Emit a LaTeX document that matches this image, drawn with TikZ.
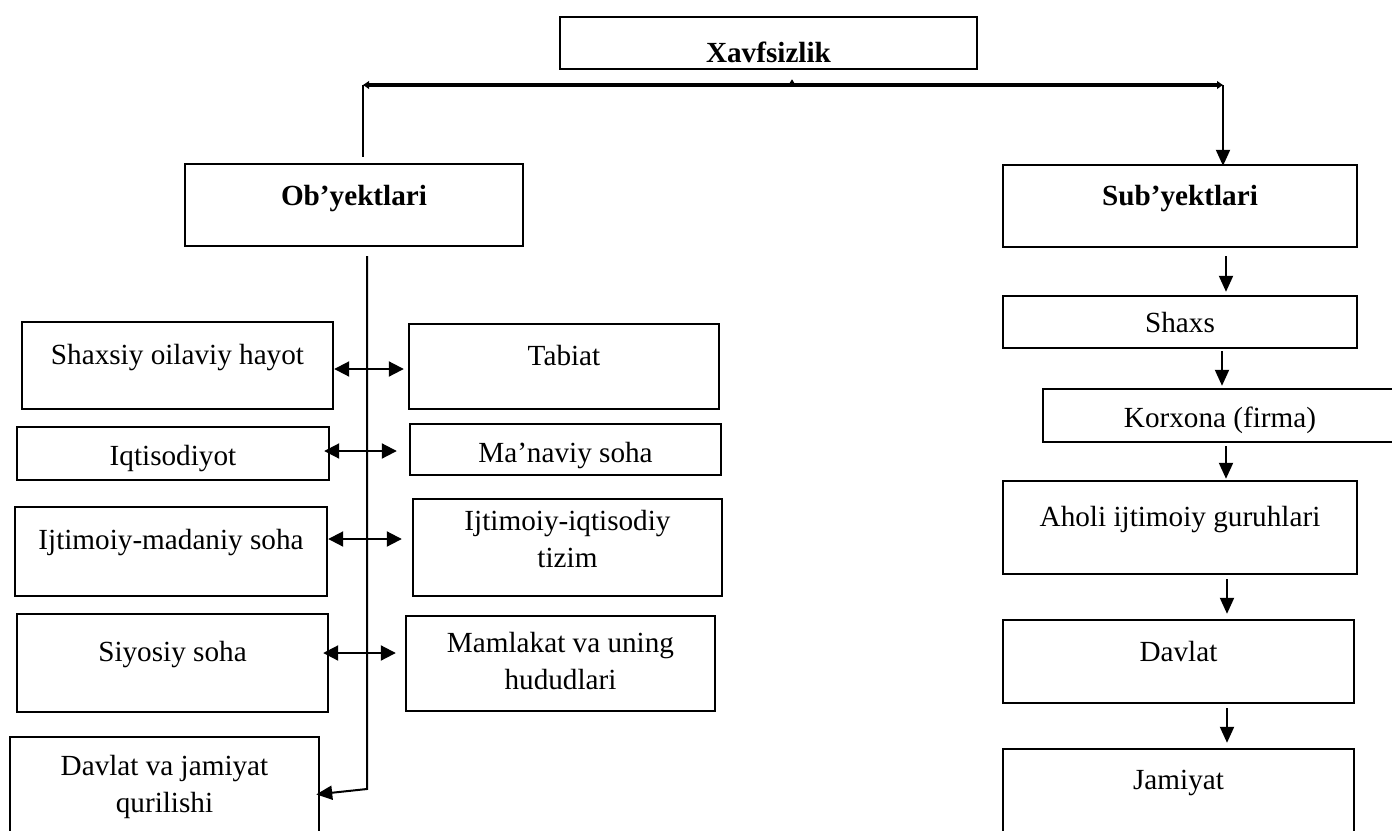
\documentclass[tikz,border=0pt]{standalone}
\usepackage{fontspec}
\setmainfont{Liberation Serif}
\usetikzlibrary{arrows.meta,positioning,calc}

\tikzset{
	box/.style={draw, rectangle, line width=1.2pt, inner sep=0pt},
	txt/.style={inner sep=0pt, align=center, font=\fontsize{14.6pt}{18.5pt}\selectfont},
	btxt/.style={inner sep=0pt, align=center, font=\fontsize{14.6pt}{18.5pt}\selectfont\bfseries},
	arr/.style={line width=1pt, -{Triangle[length=8pt,width=7pt]}},
	dbl/.style={line width=1pt, {Triangle[length=7.5pt,width=7.5pt]}-{Triangle[length=7.5pt,width=7.5pt]}},
	bus/.style={line width=2.4pt, {Triangle[length=3pt,width=3.8pt]}-{Triangle[length=3pt,width=3.8pt]}}
}

\begin{document}
\begin{tikzpicture}[x=0.5pt,y=-0.5pt]
	\path[use as bounding box, clip] (0,0) rectangle (1392,830);

	% top
	\node[box, minimum width=208.5pt, minimum height=26pt] (xavf) at (768.5,43) {};
	\node[btxt] (xavf-t) at (768.5,52) {Xavfsizlik};
	\node[box, minimum width=169pt, minimum height=41pt] (obyekt) at (354,205) {};
	\node[btxt] (obyekt-t) at (354,199) {Ob’yektlari};
	\node[box, minimum width=177pt, minimum height=41pt] (subyekt) at (1180,206) {};
	\node[btxt] (subyekt-t) at (1180,199) {Sub’yektlari};

	\coordinate (busL) at (363,85);
	\coordinate (busR) at (1223,85);
	\coordinate (busC) at (792,85);
	\draw[bus] (busL) -- (busR);
	\draw[line width=1pt, shorten >=3pt] (busL) -- (busL |- obyekt.north);
	\draw[arr, shorten >=-1pt] (busR) -- (busR |- subyekt.north);
	\draw[line width=1pt, -{Triangle[length=3.5pt,width=4pt]}, shorten >=4.5pt] (busC) -- (busC |- xavf.south);

	% objects
	\node[box, minimum width=155.5pt, minimum height=43.5pt] (shaxsiy) at (177.5,365.5) {};
	\node[txt] (shaxsiy-t) at (177.5,358) {Shaxsiy oilaviy hayot};
	\node[box, minimum width=155pt, minimum height=42.5pt] (tabiat) at (564,366.5) {};
	\node[txt] (tabiat-t) at (564,356) {Tabiat};
	\node[box, minimum width=156pt, minimum height=26.5pt] (iqtis) at (173,453.5) {};
	\node[txt] (iqtis-t) at (173,459) {Iqtisodiyot};
	\node[box, minimum width=155.5pt, minimum height=25.5pt] (manav) at (565.5,449.5) {};
	\node[txt] (manav-t) at (565.5,456) {Ma’naviy soha};
	\node[box, minimum width=156pt, minimum height=44.5pt] (ijmad) at (171,551.5) {};
	\node[txt] (ijmad-t) at (171,543) {Ijtimoiy-madaniy soha};
	\node[box, minimum width=154.5pt, minimum height=48.5pt] (ijiqt) at (567.5,547.5) {};
	\node[txt] (ijiqt-t) at (567.5,539) {Ijtimoiy-iqtisodiy\\tizim};
	\node[box, minimum width=155.5pt, minimum height=49pt] (siyos) at (172.5,663) {};
	\node[txt] (siyos-t) at (172.5,655) {Siyosiy soha};
	\node[box, minimum width=154.5pt, minimum height=47.5pt] (mamla) at (560.5,663.5) {};
	\node[txt] (mamla-t) at (560.5,661) {Mamlakat va uning\\hududlari};
	\node[box, minimum width=154.5pt, minimum height=50pt] (davjam) at (164.5,787) {};
	\node[txt] (davjam-t) at (164.5,787) {Davlat va jamiyat\\qurilishi};

	\draw[dbl, shorten >=2pt] ([yshift=-1.75pt]shaxsiy.east) -- ([yshift=-1.75pt]shaxsiy.east -| tabiat.west);
	\draw[dbl, shorten <=-3pt, shorten >=6pt] ([yshift=1.25pt]iqtis.east) -- ([yshift=1.25pt]iqtis.east -| manav.west);
	\draw[dbl, shorten >=5pt] ([yshift=6.25pt]ijmad.east) -- ([yshift=6.25pt]ijmad.east -| ijiqt.west);
	\draw[dbl, shorten <=-3pt, shorten >=4.5pt] ([yshift=5pt]siyos.east) -- ([yshift=5pt]siyos.east -| mamla.west);

	\coordinate (trunk) at (367,789);
	\draw[arr, shorten <=4.5pt, shorten >=-2pt] (obyekt.south -| trunk) -- (trunk) -- ([yshift=-3.5pt]davjam.east);

	% subjects
	\node[box, minimum width=177pt, minimum height=26pt] (shaxs) at (1180,322) {};
	\node[txt] (shaxs-t) at (1180,323) {Shaxs};
	\node[box, minimum width=177pt, minimum height=26.5pt] (korx) at (1220,415.5) {};
	\node[txt] (korx-t) at (1220,420) {Korxona (firma)};
	\node[box, minimum width=177pt, minimum height=46.5pt] (aholi) at (1180,527.5) {};
	\node[txt] (aholi-t) at (1180,520) {Aholi ijtimoiy guruhlari};
	\node[box, minimum width=175.5pt, minimum height=41.5pt] (davl) at (1178.5,661.5) {};
	\node[txt] (davl-t) at (1178.5,652) {Davlat};
	\node[box, minimum width=175.5pt, minimum height=50pt] (jamiy) at (1178.5,799) {};
	\node[txt] (jamiy-t) at (1178.5,783) {Jamiyat};

	\draw[arr, shorten <=4pt, shorten >=1.5pt] ([xshift=23pt]subyekt.south) -- ([xshift=23pt]subyekt.south |- shaxs.north);
	\draw[arr, shorten <=1pt, shorten >=1pt] ([xshift=21pt]shaxs.south) -- ([xshift=21pt]shaxs.south |- korx.north);
	\draw[arr, shorten <=1.5pt, shorten >=0.5pt] ([xshift=3pt]korx.south) -- ([xshift=3pt]korx.south |- aholi.north);
	\draw[arr, shorten <=2pt, shorten >=2.5pt] ([xshift=23.5pt]aholi.south) -- ([xshift=23.5pt]aholi.south |- davl.north);
	\draw[arr, shorten <=2pt, shorten >=2.5pt] ([xshift=24.25pt]davl.south) -- ([xshift=24.25pt]davl.south |- jamiy.north);
\end{tikzpicture}
\end{document}
